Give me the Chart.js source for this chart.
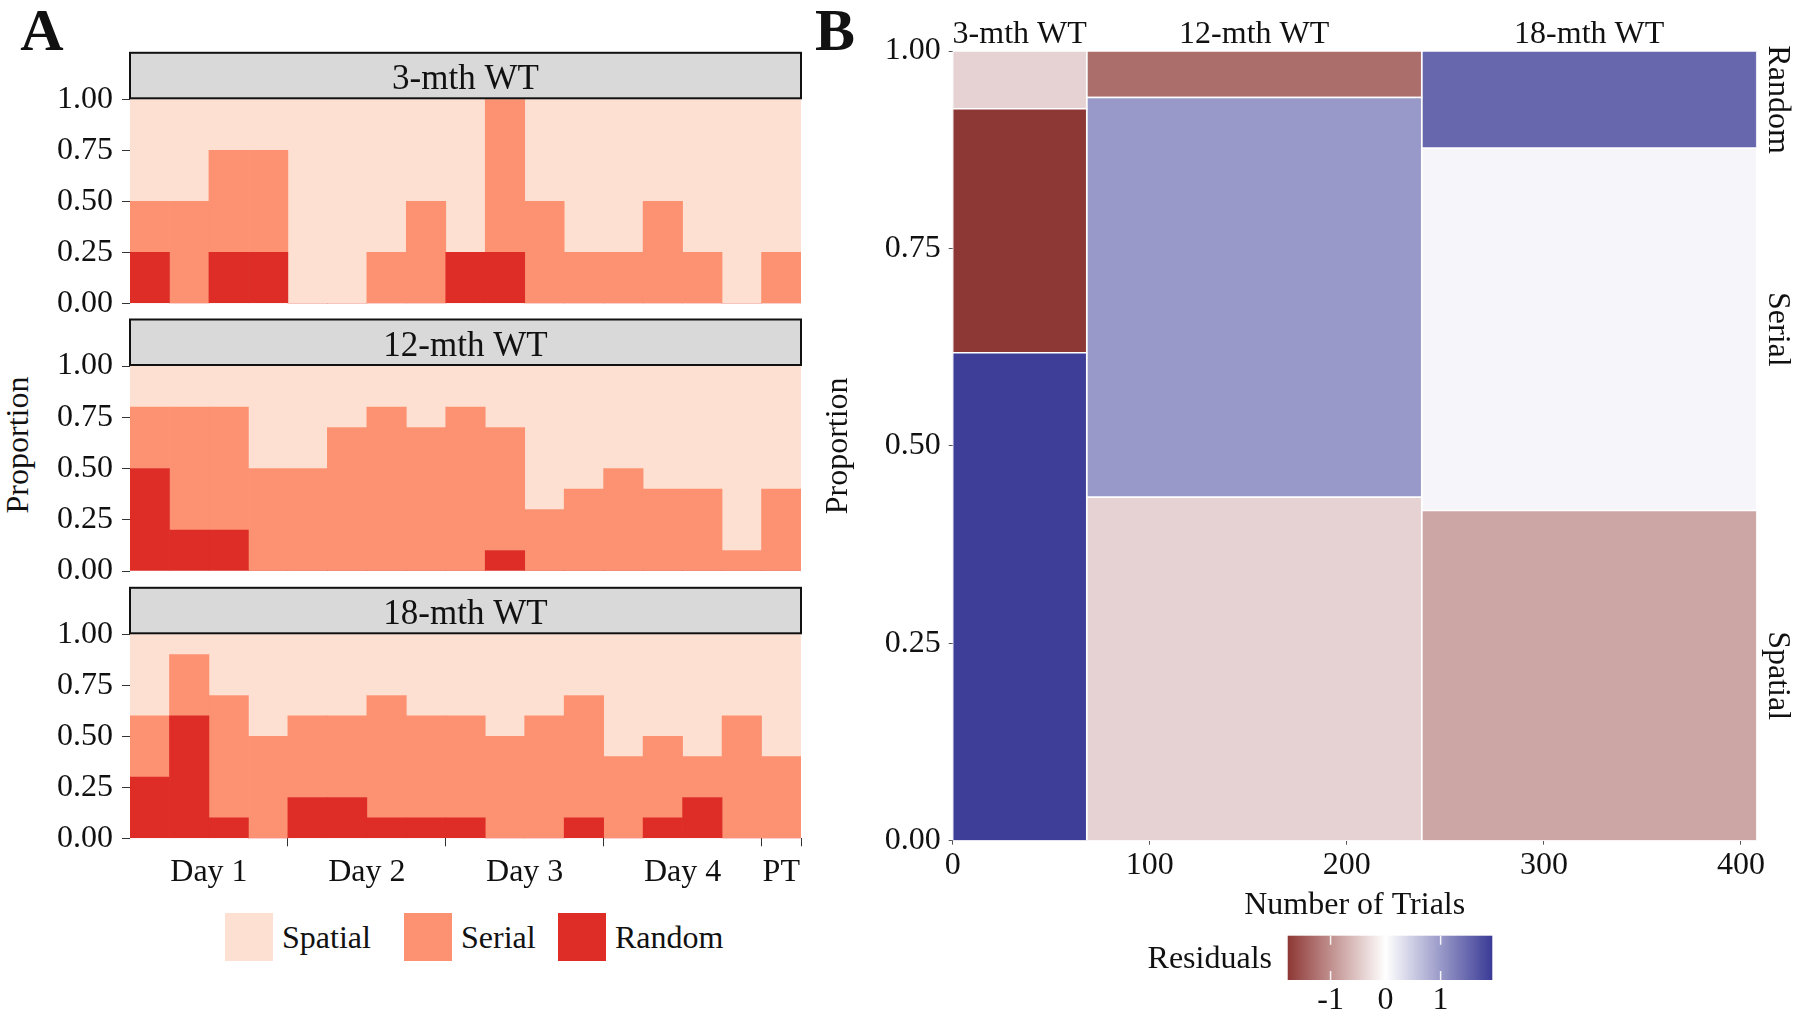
<!DOCTYPE html>
<html>
<head>
<meta charset="utf-8">
<script src="https://cdn.jsdelivr.net/npm/chart.js@4.4.1/dist/chart.umd.min.js"></script>
<style>
  body { margin: 0; background: #fff; width: 1800px; height: 1013px; position: relative; overflow: hidden;
         font-family: 'Liberation Serif', 'Times New Roman', serif; color: #111; }
  canvas { position: absolute; }
  .lbl { position: absolute; white-space: nowrap; transform: translate(-50%, -50%); font-size: 32px; line-height: 1; }
  .panel { font-size: 60px; font-weight: bold; }
  .key { position: absolute; top: 913px; height: 48px; display: flex; align-items: center; font-size: 32px; }
  .key span { display: inline-block; width: 48px; height: 48px; margin-right: 9px; }
</style>
</head>
<body>
<div class="lbl panel" style="left:42px;top:30px">A</div>
<div class="lbl panel" style="left:835px;top:30px">B</div>
<div class="lbl" style="left:17px;top:445px;transform:translate(-50%,-50%) rotate(-90deg)">Proportion</div>

<canvas id="facet0" width="820" height="284" style="left:0;top:50px"></canvas>
<canvas id="facet1" width="820" height="285" style="left:0;top:317px"></canvas>
<canvas id="facet2" width="820" height="316" style="left:0;top:586px"></canvas>

<div class="key" style="left:225px"><span style="background:#fee0d2"></span>Spatial</div>
<div class="key" style="left:404px"><span style="background:#fc9272"></span>Serial</div>
<div class="key" style="left:558px"><span style="background:#de2d26"></span>Random</div>

<canvas id="mosaic" width="990" height="1013" style="left:810px;top:0"></canvas>

<script>
// ---- data ----
var ages = ['3-mth WT', '12-mth WT', '18-mth WT'];
var strategies = ['Spatial', 'Serial', 'Random'];
var blockLabels = ['Day 1', 'Day 2', 'Day 3', 'Day 4', 'PT'];
var trialsPerBlock = [4, 4, 4, 4, 1];

// proportion of mice per trial (17 trials)
var random3  = [0.25, 0, 0.25, 0.25, 0, 0, 0, 0, 0.25, 0.25, 0, 0, 0, 0, 0, 0, 0];
var serial3  = [0.25, 0.5, 0.5, 0.5, 0, 0, 0.25, 0.5, 0, 0.75, 0.5, 0.25, 0.25, 0.5, 0.25, 0, 0.25];
var spatial3 = [0.5, 0.5, 0.25, 0.25, 1, 1, 0.75, 0.5, 0.75, 0, 0.5, 0.75, 0.75, 0.5, 0.75, 1, 0.75];

var random12  = [0.5, 0.2, 0.2, 0, 0, 0, 0, 0, 0, 0.1, 0, 0, 0, 0, 0, 0, 0];
var serial12  = [0.3, 0.6, 0.6, 0.5, 0.5, 0.7, 0.8, 0.7, 0.8, 0.6, 0.3, 0.4, 0.5, 0.4, 0.4, 0.1, 0.4];
var spatial12 = [0.2, 0.2, 0.2, 0.5, 0.5, 0.3, 0.2, 0.3, 0.2, 0.3, 0.7, 0.6, 0.5, 0.6, 0.6, 0.9, 0.6];

var random18  = [0.3, 0.6, 0.1, 0, 0.2, 0.2, 0.1, 0.1, 0.1, 0, 0, 0.1, 0, 0.1, 0.2, 0, 0];
var serial18  = [0.3, 0.3, 0.6, 0.5, 0.4, 0.4, 0.6, 0.5, 0.5, 0.5, 0.6, 0.6, 0.4, 0.4, 0.2, 0.6, 0.4];
var spatial18 = [0.4, 0.1, 0.3, 0.5, 0.4, 0.4, 0.3, 0.4, 0.4, 0.5, 0.4, 0.3, 0.6, 0.5, 0.6, 0.4, 0.6];

// mosaic: number of trials per age and proportions (bottom to top: spatial, serial, random)
var mosaicTrials  = [68, 170, 170];
var mosaicSpatial = [0.618, 0.435, 0.418];
var mosaicSerial  = [0.309, 0.506, 0.459];
var mosaicRandom  = [0.073, 0.059, 0.123];
var residSpatial  = [1.9, -0.4, -0.8];
var residSerial   = [-1.8, 1.0, 0.1];
var residRandom   = [-0.4, -1.3, 1.5];
var residRange    = [-1.78, 1.94];
var residTicks    = [-1, 0, 1];
var trialTicks    = [0, 100, 200, 300, 400];

// ---- styling ----
var FONT = "'Liberation Serif', 'Times New Roman', serif";
Chart.defaults.font.family = FONT;
Chart.defaults.font.size = 32;
Chart.defaults.color = '#111';

var colRandom = '#de2d26', colSerial = '#fc9272', colSpatial = '#fee0d2';
var lowCol = [142, 56, 53], highCol = [58, 58, 150];

function mix(c, t) {
  return 'rgb(' + [0, 1, 2].map(function (k) { return Math.round(255 + (c[k] - 255) * t); }).join(',') + ')';
}
function resColor(v) {
  return v < 0 ? mix(lowCol, Math.min(1, v / residRange[0])) : mix(highCol, Math.min(1, v / residRange[1]));
}

// tick positions for day blocks
var blockCenters = [], blockEdges = [];
var acc = 0;
trialsPerBlock.forEach(function (n) { blockCenters.push(acc + n / 2); acc += n; blockEdges.push(acc); });
var nTrials = acc;

var stripPlugin = {
  id: 'strip',
  afterDraw: function (chart, args, opts) {
    var a = chart.chartArea, c = chart.ctx;
    c.save();
    c.fillStyle = '#d9d9d9';
    c.fillRect(a.left, a.top - 46.5, a.right - a.left, 45.5);
    c.strokeStyle = '#111';
    c.lineWidth = 2;
    c.strokeRect(a.left, a.top - 46.5, a.right - a.left, 45.5);
    c.fillStyle = '#111';
    c.font = '35px ' + FONT;
    c.textAlign = 'center';
    c.textBaseline = 'middle';
    c.fillText(opts.text, (a.left + a.right) / 2, a.top - 19);
    c.restore();
  }
};

function toPoints(arr) {
  return arr.map(function (v, i) { return { x: i + 0.5, y: v }; });
}

function facetChart(id, idx, random, serial, spatial, padTop, padBottom, showX) {
  var ctx = document.getElementById(id).getContext('2d');
  var bar = { barThickness: 'flex', barPercentage: 1, categoryPercentage: 1, borderWidth: 0 };
  return new Chart(ctx, {
    type: 'bar',
    data: {
      datasets: [
        Object.assign({ label: 'Random', data: toPoints(random), backgroundColor: colRandom }, bar),
        Object.assign({ label: 'Serial', data: toPoints(serial), backgroundColor: colSerial }, bar),
        Object.assign({ label: 'Spatial', data: toPoints(spatial), backgroundColor: colSpatial }, bar)
      ]
    },
    options: {
      responsive: false,
      animation: false,
      layout: { padding: { top: padTop, bottom: padBottom, left: 0, right: 19 } },
      plugins: { legend: { display: false }, tooltip: { enabled: false }, strip: { text: ages[idx] } },
      scales: {
        x: {
          type: 'linear', stacked: true, min: 0, max: nTrials, offset: false, display: showX,
          grid: {
            offset: false, drawOnChartArea: false, tickLength: 8,
            color: function (c) { return c.tick && blockEdges.indexOf(c.tick.value) >= 0 ? '#333' : 'rgba(0,0,0,0)'; }
          },
          border: { display: false },
          ticks: {
            autoSkip: false, maxRotation: 0, padding: 7,
            callback: function (v) { var k = blockCenters.indexOf(v); return k >= 0 ? blockLabels[k] : ''; }
          },
          afterBuildTicks: function (s) {
            s.ticks = blockCenters.concat(blockEdges).sort(function (a, b) { return a - b; })
              .map(function (v) { return { value: v }; });
          },
          afterFit: function (s) { if (showX) s.height = 60; }
        },
        y: {
          stacked: true, min: 0, max: 1,
          grid: { drawOnChartArea: false, tickLength: 8, color: '#333' },
          border: { display: false },
          ticks: { stepSize: 0.25, padding: 9, autoSkip: false, callback: function (v) { return v.toFixed(2); } },
          afterFit: function (s) { s.width = 130; }
        }
      }
    },
    plugins: [stripPlugin]
  });
}

facetChart('facet0', 0, random3, serial3, spatial3, 49.3, 30.7, false);
facetChart('facet1', 1, random12, serial12, spatial12, 49, 31, false);
facetChart('facet2', 2, random18, serial18, spatial18, 48.3, 3.7, true);

// ---- mosaic ----
var mosaicSets = [];
var x0 = 0;
for (var i = 0; i < ages.length; i++) {
  var props = [mosaicSpatial[i], mosaicSerial[i], mosaicRandom[i]];
  var res = [residSpatial[i], residSerial[i], residRandom[i]];
  var y0 = 0;
  for (var s = 0; s < strategies.length; s++) {
    var x1 = x0 + mosaicTrials[i], y1 = y0 + props[s];
    mosaicSets.push({
      label: ages[i] + ' ' + strategies[s],
      data: [{ x: x0, y: y0 }, { x: x1, y: y0 }, { x: x1, y: y1 }, { x: x0, y: y1 }, { x: x0, y: y0 }],
      showLine: true, fill: 'shape', tension: 0,
      backgroundColor: resColor(res[s]), borderColor: '#ffffff', borderWidth: 1.5,
      pointRadius: 0, pointHoverRadius: 0
    });
    y0 = y1;
  }
  x0 += mosaicTrials[i];
}
var totalTrials = x0;

var mosaicLabels = {
  id: 'mosaicLabels',
  afterDraw: function (chart) {
    var c = chart.ctx, xs = chart.scales.x, ys = chart.scales.y, a = chart.chartArea;
    c.save();
    c.fillStyle = '#111';
    c.font = '32px ' + FONT;
    c.textAlign = 'center';
    c.textBaseline = 'middle';
    // column titles
    var cx = 0;
    for (var i = 0; i < ages.length; i++) {
      c.fillText(ages[i], xs.getPixelForValue(cx + mosaicTrials[i] / 2), a.top - 16);
      cx += mosaicTrials[i];
    }
    // row labels on the right, following the last column
    var last = ages.length - 1;
    var props = [mosaicSpatial[last], mosaicSerial[last], mosaicRandom[last]];
    var cy = 0;
    for (var s = 0; s < strategies.length; s++) {
      var yc = ys.getPixelForValue(cy + props[s] / 2);
      c.save();
      c.translate(a.right + 21, yc);
      c.rotate(Math.PI / 2);
      c.fillText(strategies[s], 0, 0);
      c.restore();
      cy += props[s];
    }
    // colour bar
    var bx = 477.7, bw = 204.6, by = 935.7, bh = 44.3;
    var zero = (0 - residRange[0]) / (residRange[1] - residRange[0]);
    var g = c.createLinearGradient(bx, 0, bx + bw, 0);
    g.addColorStop(0, mix(lowCol, 1));
    g.addColorStop(zero, '#ffffff');
    g.addColorStop(1, mix(highCol, 1));
    c.fillStyle = g;
    c.fillRect(bx, by, bw, bh);
    c.strokeStyle = 'rgba(255,255,255,0.9)';
    c.lineWidth = 1.5;
    c.fillStyle = '#111';
    residTicks.forEach(function (v) {
      var px = bx + (v - residRange[0]) / (residRange[1] - residRange[0]) * bw;
      c.beginPath();
      c.moveTo(px, by); c.lineTo(px, by + 9);
      c.moveTo(px, by + bh - 9); c.lineTo(px, by + bh);
      c.stroke();
      c.fillText(String(v), px, by + bh + 21);
    });
    c.textAlign = 'right';
    c.fillText('Residuals', 462, by + bh / 2 + 2);
    c.restore();
  }
};

new Chart(document.getElementById('mosaic').getContext('2d'), {
  type: 'scatter',
  data: { datasets: mosaicSets },
  options: {
    responsive: false,
    animation: false,
    layout: { padding: { top: 51, bottom: 82.3, left: 0, right: 43.3 } },
    plugins: { legend: { display: false }, tooltip: { enabled: false } },
    scales: {
      x: {
        type: 'linear', min: 0, max: totalTrials,
        grid: { drawOnChartArea: false, tickLength: 4, color: '#555' },
        border: { display: false },
        ticks: { padding: 2, autoSkip: false, maxRotation: 0 },
        afterBuildTicks: function (s) { s.ticks = trialTicks.map(function (v) { return { value: v }; }); },
        title: { display: true, text: 'Number of Trials', padding: { top: 0, bottom: 6 } },
        afterFit: function (s) { s.height = 90; }
      },
      y: {
        min: 0, max: 1,
        grid: { drawOnChartArea: false, tickLength: 4, color: '#555' },
        border: { display: false },
        ticks: { stepSize: 0.25, padding: 8, autoSkip: false, callback: function (v) { return v.toFixed(2); } },
        title: { display: true, text: 'Proportion', padding: { top: 9, bottom: 0 } },
        afterFit: function (s) { s.width = 142.7; }
      }
    }
  },
  plugins: [mosaicLabels]
});
</script>
</body>
</html>
